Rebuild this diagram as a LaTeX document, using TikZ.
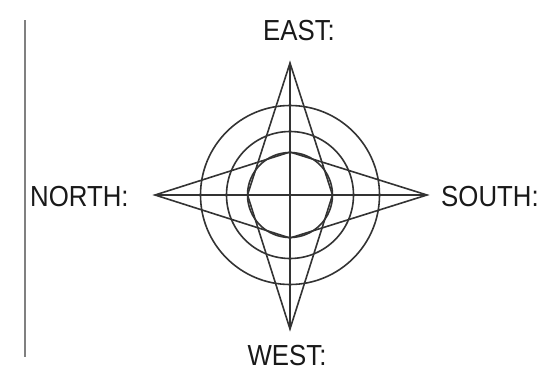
\documentclass[tikz,border=0pt]{standalone}
\usepackage{fontspec}
\setmainfont{Liberation Sans}
\usepackage{graphicx}
\newcommand{\dirlbl}[1]{\scalebox{0.89}[1]{#1}}
\begin{document}
\begin{tikzpicture}[x=1pt,y=-1pt,
  every node/.style={font=\fontsize{29}{32}\selectfont,inner sep=0pt,text=black!90},
  rose/.style={line width=1.6pt,draw=black!80}]
  \useasboundingbox (0,0) rectangle (540,383);
  % margin rule
  \draw[line width=1.5pt,black!50] (25,20) -- (25,357);
  % tips of the rose
  \coordinate (T) at (290,63);
  \coordinate (B) at (290,329);
  \coordinate (L) at (155,195);
  \coordinate (R) at (427,195);
  \coordinate (C) at (290,195);
  % rings
  \draw[rose] (C) circle[radius=89.5];
  \draw[rose] (C) circle[radius=63.5];
  \draw[rose] (C) circle[radius=42.5];
  % spikes
  \draw[rose,line join=miter] (T) -- (247.5,195) -- (B) -- (332.5,195) -- cycle;
  \draw[rose,line join=miter] (L) -- (290,152) -- (R) -- (290,238) -- cycle;
  \draw[rose] (T) -- (B);
  \draw[rose] (L) -- (R);
  % labels
  \node[anchor=base] (east) at (299,40) {\dirlbl{EAST:}};
  \node[anchor=base west] (north) at (30,206) {\dirlbl{NORTH:}};
  \node[anchor=base west] (south) at (441,206) {\dirlbl{SOUTH:}};
  \node[anchor=base] (west) at (287,365) {\dirlbl{WEST:}};
\end{tikzpicture}
\end{document}
